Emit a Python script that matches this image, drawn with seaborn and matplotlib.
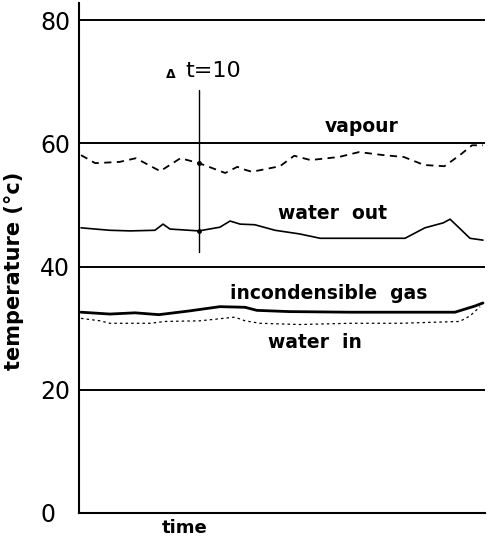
import numpy as np
import pandas as pd
import matplotlib
matplotlib.use("Agg")
import matplotlib.pyplot as plt
import seaborn as sns

# time axis in arbitrary units (0..100 across the plot)
vap_t = [0.5, 4, 10, 14, 20, 25, 29.5, 32, 36, 39, 41, 42.6, 49.5, 53, 57, 64, 69, 75, 80, 85, 90, 93.8, 96.8, 99.5]
vap_T = [58.1, 56.8, 57.0, 57.6, 55.5, 57.6, 56.8, 56.2, 55.2, 56.2, 55.7, 55.4, 56.3, 58.0, 57.3, 57.8, 58.6, 58.1, 57.8, 56.5, 56.3, 58.1, 59.7, 59.7]

wout_t = [0.5, 4, 7.6, 12.6, 18.7, 20.7, 22.4, 29.5, 34.7, 37.2, 39.7, 43.3, 48.3, 54.4, 59.4, 66.7, 80.3, 85.2, 89.7, 91.4, 93.3, 96.3, 99.5]
wout_T = [46.3, 46.1, 45.9, 45.8, 45.9, 46.9, 46.1, 45.8, 46.4, 47.4, 46.9, 46.8, 45.9, 45.3, 44.6, 44.6, 44.6, 46.3, 47.1, 47.7, 46.5, 44.6, 44.3]

gas_t = [0.5, 7.6, 13.8, 19.7, 27.1, 34.7, 40.9, 43.8, 51.7, 66.7, 79.1, 92.6, 97.5, 99.5]
gas_T = [32.6, 32.3, 32.5, 32.2, 32.8, 33.5, 33.4, 32.9, 32.7, 32.6, 32.6, 32.6, 33.6, 34.1]

win_t = [0.5, 5.2, 7.6, 17.5, 21.2, 29.8, 38.4, 40.9, 44.6, 54.4, 66.7, 79.1, 93.8, 96.3, 98.8]
win_T = [31.6, 31.2, 30.8, 30.8, 31.1, 31.2, 31.8, 31.2, 30.8, 30.6, 30.8, 30.8, 31.1, 32.0, 33.5]

grid_levels = [20, 40, 60, 80]
yticks = [0, 20, 40, 60, 80]

# marker line for delta t
dt_x = 29.5
dt_range = (42.4, 68.7)

sns.set_theme(style="white", rc={"text.color": "black", "axes.labelcolor": "black",
                                 "ytick.color": "black"})
plt.rcParams['font.family'] = ['DejaVu Sans']

fig = plt.figure(figsize=(4.92, 5.42), dpi=100)
ax = fig.add_axes([79 / 492, 1 - 513 / 542, 406 / 492, 510 / 542])

for lev in grid_levels:
    ax.axhline(lev, color='black', lw=1.4, zorder=1)

vap = pd.DataFrame({'t': vap_t, 'T': vap_T})
wout = pd.DataFrame({'t': wout_t, 'T': wout_T})
gas = pd.DataFrame({'t': gas_t, 'T': gas_T})
win = pd.DataFrame({'t': win_t, 'T': win_T})

sns.lineplot(data=vap, x='t', y='T', ax=ax, color='black', lw=1.3, linestyle=(0, (4, 3)))
sns.lineplot(data=wout, x='t', y='T', ax=ax, color='black', lw=1.2)
sns.lineplot(data=gas, x='t', y='T', ax=ax, color='black', lw=2.0)
sns.lineplot(data=win, x='t', y='T', ax=ax, color='black', lw=0.9, linestyle=(0, (2, 2.5)))

# delta t marker
ax.plot([dt_x, dt_x], dt_range, color='black', lw=1.0)
ax.plot([dt_x, dt_x], [56.8, 45.8], 'o', color='black', ms=2.5)
ax.text(dt_x - 7.0, 71.2, '\u0394', fontsize=9, fontweight='bold', ha='center', va='center')
ax.text(dt_x + 3.5, 71.8, 't=10', fontsize=16, ha='center', va='center')

lab = dict(fontsize=13.5, fontweight='bold', ha='center', va='center')
ax.text(69.5, 62.8, 'vapour', **lab)
ax.text(62.5, 48.7, 'water  out', **lab)
ax.text(61.5, 35.7, 'incondensible  gas', **lab)
ax.text(58, 27.6, 'water  in', **lab)

ax.set_xlim(0, 100)
ax.set_ylim(0, 82.8)
ax.set_xticks([])
ax.set_yticks(yticks)
ax.set_yticklabels([str(v) for v in yticks], fontsize=17)
for lbl in ax.get_yticklabels():
    lbl.set_horizontalalignment('left')
ax.tick_params(axis='y', length=0, pad=28)

ax.set_ylabel('temperature (\u00b0c)', fontsize=15, fontweight='bold')
ax.yaxis.set_label_coords(-0.135, 0.475)
ax.set_xlabel('time', fontsize=13, fontweight='bold')
ax.xaxis.set_label_coords(0.26, -0.012)
ax.xaxis.label.set_va('top')

sns.despine(ax=ax, top=True, right=True)
for side in ['left', 'bottom']:
    ax.spines[side].set_color('black')
    ax.spines[side].set_linewidth(1.5)

fig.savefig('out.png', dpi=100)
